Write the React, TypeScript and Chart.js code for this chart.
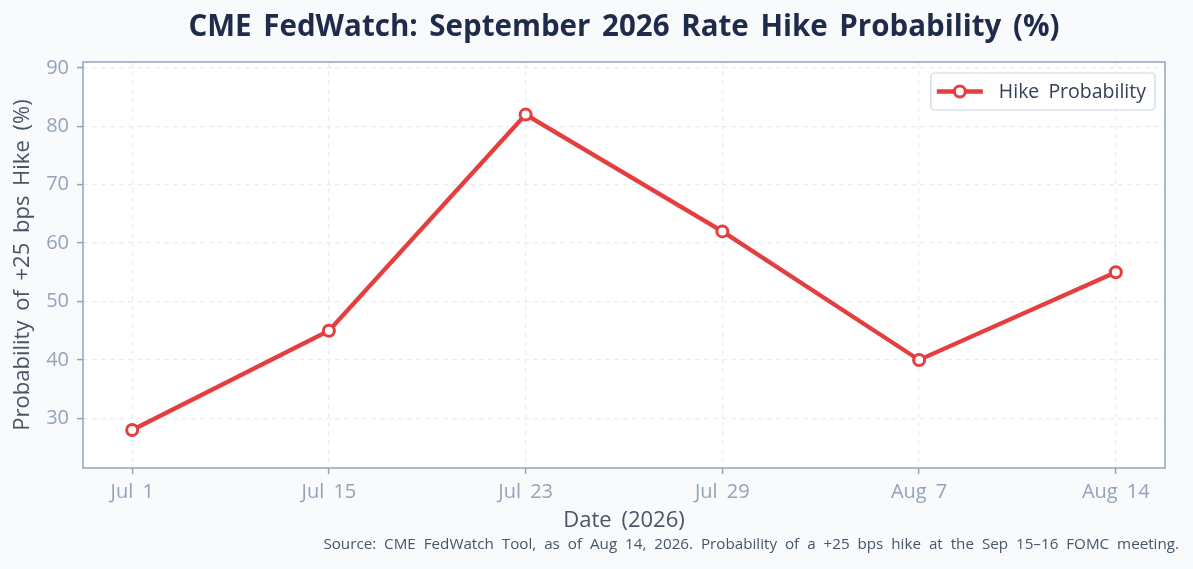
import { useEffect, useRef } from "react";
import Chart from "chart.js/auto";

const dates = ["Jul 1", "Jul 15", "Jul 23", "Jul 29", "Aug 7", "Aug 14"];
const hikeProbability = [28, 45, 82, 62, 40, 55];
const yTicks = [30, 40, 50, 60, 70, 80, 90];

const FONT = "'Open Sans', 'DejaVu Sans', sans-serif";
const RED = "#e53e3e";

// wider word gaps, closer to the reference typeface
const setSpacing = (chart: Chart) => {
	(chart.ctx as any).wordSpacing = "4px";
};

// draws bg, spines, title, legend box and source note around the plot
const framePlugin = {
	id: "frame",
	beforeUpdate(chart: Chart) {
		setSpacing(chart);
	},
	beforeDraw(chart: Chart) {
		setSpacing(chart);
		const { ctx, chartArea } = chart;
		ctx.save();
		ctx.fillStyle = "#ffffff";
		ctx.fillRect(chartArea.left, chartArea.top, chartArea.right - chartArea.left, chartArea.bottom - chartArea.top);
		ctx.restore();
	},
	afterDraw(chart: Chart) {
		const { ctx, chartArea, width } = chart;
		const { left, right, top, bottom } = chartArea;
		ctx.save();
		ctx.strokeStyle = "#94a3b8";
		ctx.lineWidth = 1.5;
		ctx.strokeRect(left, top, right - left, bottom - top);

		ctx.fillStyle = "#1e2b4a";
		ctx.font = `bold 29.5px ${FONT}`;
		ctx.textAlign = "center";
		ctx.textBaseline = "middle";
		ctx.fillText("CME FedWatch: September 2026 Rate Hike Probability (%)", (left + right) / 2, 28);

		ctx.fillStyle = "#475569";
		ctx.font = `15.2px ${FONT}`;
		ctx.textAlign = "right";
		ctx.fillText(
			"Source: CME FedWatch Tool, as of Aug 14, 2026. Probability of a +25 bps hike at the Sep 15\u201316 FOMC meeting.",
			width - 14,
			545
		);

		// legend
		const label = chart.data.datasets[0].label as string;
		ctx.font = `19.5px ${FONT}`;
		const tw = ctx.measureText(label).width;
		const bw = 68 + tw + 9;
		const bx = right - 10 - bw;
		const by = top + 11;
		const bh = 37;
		ctx.beginPath();
		ctx.roundRect(bx, by, bw, bh, 4);
		ctx.fillStyle = "rgba(255,255,255,0.9)";
		ctx.fill();
		ctx.strokeStyle = "#cbd5e1";
		ctx.lineWidth = 1.2;
		ctx.stroke();
		const cy = by + bh / 2;
		ctx.strokeStyle = RED;
		ctx.lineWidth = 4.3;
		ctx.beginPath();
		ctx.moveTo(bx + 6, cy);
		ctx.lineTo(bx + 52, cy);
		ctx.stroke();
		ctx.beginPath();
		ctx.arc(bx + 29, cy, 5.5, 0, Math.PI * 2);
		ctx.fillStyle = "#ffffff";
		ctx.fill();
		ctx.lineWidth = 3;
		ctx.stroke();
		ctx.fillStyle = "#334155";
		ctx.textAlign = "left";
		ctx.fillText(label, bx + 68, cy + 1);
		ctx.restore();
	},
};

export default function App() {
	const canvasRef = useRef<HTMLCanvasElement>(null);

	useEffect(() => {
		document.body.style.margin = "0";
		document.body.style.background = "#f8fafc";
		if (!canvasRef.current) return;
		const chart = new Chart(canvasRef.current, {
			type: "line",
			data: {
				datasets: [
					{
						label: "Hike Probability",
						data: hikeProbability.map((v, i) => ({ x: i, y: v })),
						borderColor: RED,
						borderWidth: 4.3,
						pointBackgroundColor: "#ffffff",
						pointBorderColor: RED,
						pointBorderWidth: 3,
						pointRadius: 5.5,
						tension: 0,
					},
				],
			},
			options: {
				animation: false,
				responsive: false,
				layout: { padding: { left: 0, right: 28, top: 62, bottom: 31 } },
				plugins: {
					legend: { display: false },
					title: { display: false },
					tooltip: { enabled: false },
				},
				scales: {
					x: {
						type: "linear",
						min: -0.25,
						max: 5.25,
						afterBuildTicks: (scale: any) => {
							scale.ticks = dates.map((_, i) => ({ value: i }));
						},
						afterFit: (scale: any) => {
							scale.height = 70;
						},
						ticks: {
							callback: (v: any) => dates[v] ?? "",
							color: "#94a3b8",
							font: { family: FONT, size: 20 },
							padding: 6,
							maxRotation: 0,
						},
						grid: {
							color: "#e8edf3",
							lineWidth: 1.2,
							tickColor: "#94a3b8",
							tickLength: 6,
							tickWidth: 1.5,
						},
						border: { display: false, dash: [5, 4] },
						title: {
							display: true,
							text: "Date (2026)",
							color: "#475569",
							font: { family: FONT, size: 22 },
							padding: { top: 4, bottom: 4 },
						},
					},
					y: {
						min: 21.5,
						max: 91,
						afterBuildTicks: (scale: any) => {
							scale.ticks = yTicks.map((v) => ({ value: v }));
						},
						afterFit: (scale: any) => {
							scale.width = 83;
						},
						ticks: {
							color: "#94a3b8",
							font: { family: FONT, size: 20 },
							padding: 8,
						},
						grid: {
							color: "#e8edf3",
							lineWidth: 1.2,
							tickColor: "#94a3b8",
							tickLength: 6,
							tickWidth: 1.5,
						},
						border: { display: false, dash: [5, 4] },
						title: {
							display: true,
							text: "Probability of +25 bps Hike (%)",
							color: "#475569",
							font: { family: FONT, size: 22 },
							padding: { top: 10, bottom: 4 },
						},
					},
				},
			},
			plugins: [framePlugin],
		});
		return () => chart.destroy();
	}, []);

	return <canvas ref={canvasRef} width={1193} height={569} style={{ display: "block" }} />;
}
